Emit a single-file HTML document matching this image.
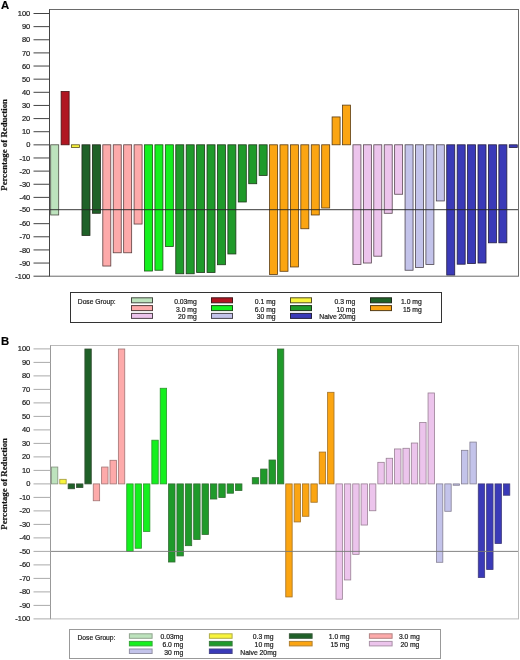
<!DOCTYPE html>
<html><head><meta charset="utf-8"><title>Figure</title>
<style>
html,body{margin:0;padding:0;background:#fff;}
body{width:520px;height:660px;overflow:hidden;}
svg{display:block;}
text{font-family:"Liberation Sans",Arial,Helvetica,sans-serif;fill:#1a1a1a;stroke:#1a1a1a;stroke-width:0.2px;}
.ax{font-size:7.5px;text-anchor:end;}
.lg{font-size:6.7px;}
.lge{font-size:6.8px;text-anchor:end;}
.pl{font-size:11.3px;font-weight:bold;fill:#000;}
.yl{font-family:"Liberation Serif","Times New Roman",serif;font-weight:bold;font-size:8.8px;text-anchor:middle;fill:#111;}
</style></head><body>
<svg width="520" height="660" viewBox="0 0 520 660">
<rect width="520" height="660" fill="#fff"/>

<text class="pl" x="1" y="9.4">A</text>
<rect x="50.70" y="144.80" width="8.00" height="70.18" fill="#bde3bd" stroke="#4a4d43" stroke-width="0.8"/>
<rect x="61.12" y="91.47" width="8.00" height="53.33" fill="#b01622" stroke="#461417" stroke-width="0.8"/>
<rect x="71.54" y="144.80" width="8.00" height="2.72" fill="#f8f43c" stroke="#5b521f" stroke-width="0.8"/>
<rect x="81.97" y="144.80" width="8.00" height="90.66" fill="#1f6128" stroke="#1e2919" stroke-width="0.8"/>
<rect x="92.39" y="144.80" width="8.00" height="68.47" fill="#1f6128" stroke="#1e2919" stroke-width="0.8"/>
<rect x="102.81" y="144.80" width="8.00" height="121.24" fill="#fdaaaa" stroke="#5c3e3e" stroke-width="0.8"/>
<rect x="113.23" y="144.80" width="8.00" height="107.98" fill="#fdaaaa" stroke="#5c3e3e" stroke-width="0.8"/>
<rect x="123.66" y="144.80" width="8.00" height="107.98" fill="#fdaaaa" stroke="#5c3e3e" stroke-width="0.8"/>
<rect x="134.08" y="144.80" width="8.00" height="79.24" fill="#fdaaaa" stroke="#5c3e3e" stroke-width="0.8"/>
<rect x="144.50" y="144.80" width="8.00" height="126.22" fill="#14f01e" stroke="#1b5116" stroke-width="0.8"/>
<rect x="154.92" y="144.80" width="8.00" height="125.44" fill="#14f01e" stroke="#1b5116" stroke-width="0.8"/>
<rect x="165.34" y="144.80" width="8.00" height="101.68" fill="#14f01e" stroke="#1b5116" stroke-width="0.8"/>
<rect x="175.77" y="144.80" width="8.00" height="128.98" fill="#1f9a2a" stroke="#1e391a" stroke-width="0.8"/>
<rect x="186.19" y="144.80" width="8.00" height="128.98" fill="#1f9a2a" stroke="#1e391a" stroke-width="0.8"/>
<rect x="196.61" y="144.80" width="8.00" height="127.67" fill="#1f9a2a" stroke="#1e391a" stroke-width="0.8"/>
<rect x="207.03" y="144.80" width="8.00" height="127.67" fill="#1f9a2a" stroke="#1e391a" stroke-width="0.8"/>
<rect x="217.46" y="144.80" width="8.00" height="119.93" fill="#1f9a2a" stroke="#1e391a" stroke-width="0.8"/>
<rect x="227.88" y="144.80" width="8.00" height="109.16" fill="#1f9a2a" stroke="#1e391a" stroke-width="0.8"/>
<rect x="238.30" y="144.80" width="8.00" height="57.19" fill="#1f9a2a" stroke="#1e391a" stroke-width="0.8"/>
<rect x="248.72" y="144.80" width="8.00" height="38.94" fill="#1f9a2a" stroke="#1e391a" stroke-width="0.8"/>
<rect x="259.14" y="144.80" width="8.00" height="30.67" fill="#1f9a2a" stroke="#1e391a" stroke-width="0.8"/>
<rect x="269.57" y="144.80" width="8.00" height="129.64" fill="#fba512" stroke="#5b3c13" stroke-width="0.8"/>
<rect x="279.99" y="144.80" width="8.00" height="126.49" fill="#fba512" stroke="#5b3c13" stroke-width="0.8"/>
<rect x="290.41" y="144.80" width="8.00" height="122.16" fill="#fba512" stroke="#5b3c13" stroke-width="0.8"/>
<rect x="300.83" y="144.80" width="8.00" height="83.96" fill="#fba512" stroke="#5b3c13" stroke-width="0.8"/>
<rect x="311.26" y="144.80" width="8.00" height="70.18" fill="#fba512" stroke="#5b3c13" stroke-width="0.8"/>
<rect x="321.68" y="144.80" width="8.00" height="63.22" fill="#fba512" stroke="#5b3c13" stroke-width="0.8"/>
<rect x="332.10" y="116.94" width="8.00" height="27.86" fill="#fba512" stroke="#5b3c13" stroke-width="0.8"/>
<rect x="342.52" y="105.12" width="8.00" height="39.68" fill="#fba512" stroke="#5b3c13" stroke-width="0.8"/>
<rect x="352.94" y="144.80" width="8.00" height="119.66" fill="#ecc4ec" stroke="#574550" stroke-width="0.8"/>
<rect x="363.37" y="144.80" width="8.00" height="118.22" fill="#ecc4ec" stroke="#574550" stroke-width="0.8"/>
<rect x="373.79" y="144.80" width="8.00" height="111.39" fill="#ecc4ec" stroke="#574550" stroke-width="0.8"/>
<rect x="384.21" y="144.80" width="8.00" height="68.47" fill="#ecc4ec" stroke="#574550" stroke-width="0.8"/>
<rect x="394.63" y="144.80" width="8.00" height="49.44" fill="#ecc4ec" stroke="#574550" stroke-width="0.8"/>
<rect x="405.06" y="144.80" width="8.00" height="125.44" fill="#c3c3ea" stroke="#4c454f" stroke-width="0.8"/>
<rect x="415.48" y="144.80" width="8.00" height="122.68" fill="#c3c3ea" stroke="#4c454f" stroke-width="0.8"/>
<rect x="425.90" y="144.80" width="8.00" height="119.66" fill="#c3c3ea" stroke="#4c454f" stroke-width="0.8"/>
<rect x="436.32" y="144.80" width="8.00" height="56.14" fill="#c3c3ea" stroke="#4c454f" stroke-width="0.8"/>
<rect x="446.74" y="144.80" width="8.00" height="130.29" fill="#3a3ab8" stroke="#251e41" stroke-width="0.8"/>
<rect x="457.17" y="144.80" width="8.00" height="119.40" fill="#3a3ab8" stroke="#251e41" stroke-width="0.8"/>
<rect x="467.59" y="144.80" width="8.00" height="118.74" fill="#3a3ab8" stroke="#251e41" stroke-width="0.8"/>
<rect x="478.01" y="144.80" width="8.00" height="118.22" fill="#3a3ab8" stroke="#251e41" stroke-width="0.8"/>
<rect x="488.43" y="144.80" width="8.00" height="98.01" fill="#3a3ab8" stroke="#251e41" stroke-width="0.8"/>
<rect x="498.86" y="144.80" width="8.00" height="98.01" fill="#3a3ab8" stroke="#251e41" stroke-width="0.8"/>
<rect x="509.28" y="144.80" width="8.00" height="2.72" fill="#3a3ab8" stroke="#251e41" stroke-width="0.8"/>
<line x1="49.5" y1="209.70" x2="518.5" y2="209.70" stroke="#222" stroke-width="0.9"/>
<rect x="49.5" y="9.5" width="469.0" height="266.70" fill="none" stroke="#6a6a6a" stroke-width="1"/>
<line x1="49.5" y1="9.5" x2="49.5" y2="276.2" stroke="#444" stroke-width="1"/>
<line x1="33.5" y1="13.50" x2="49.5" y2="13.50" stroke="#444" stroke-width="1"/>
<text class="ax" x="30.3" y="16.10">100</text>
<line x1="33.5" y1="26.63" x2="49.5" y2="26.63" stroke="#444" stroke-width="1"/>
<text class="ax" x="30.3" y="29.23">90</text>
<line x1="33.5" y1="39.77" x2="49.5" y2="39.77" stroke="#444" stroke-width="1"/>
<text class="ax" x="30.3" y="42.37">80</text>
<line x1="33.5" y1="52.90" x2="49.5" y2="52.90" stroke="#444" stroke-width="1"/>
<text class="ax" x="30.3" y="55.50">70</text>
<line x1="33.5" y1="66.04" x2="49.5" y2="66.04" stroke="#444" stroke-width="1"/>
<text class="ax" x="30.3" y="68.64">60</text>
<line x1="33.5" y1="79.17" x2="49.5" y2="79.17" stroke="#444" stroke-width="1"/>
<text class="ax" x="30.3" y="81.77">50</text>
<line x1="33.5" y1="92.31" x2="49.5" y2="92.31" stroke="#444" stroke-width="1"/>
<text class="ax" x="30.3" y="94.91">40</text>
<line x1="33.5" y1="105.44" x2="49.5" y2="105.44" stroke="#444" stroke-width="1"/>
<text class="ax" x="30.3" y="108.04">30</text>
<line x1="33.5" y1="118.58" x2="49.5" y2="118.58" stroke="#444" stroke-width="1"/>
<text class="ax" x="30.3" y="121.18">20</text>
<line x1="33.5" y1="131.71" x2="49.5" y2="131.71" stroke="#444" stroke-width="1"/>
<text class="ax" x="30.3" y="134.31">10</text>
<line x1="33.5" y1="144.85" x2="49.5" y2="144.85" stroke="#444" stroke-width="1"/>
<text class="ax" x="30.3" y="147.45">0</text>
<line x1="33.5" y1="157.98" x2="49.5" y2="157.98" stroke="#444" stroke-width="1"/>
<text class="ax" x="30.3" y="160.58">-10</text>
<line x1="33.5" y1="171.12" x2="49.5" y2="171.12" stroke="#444" stroke-width="1"/>
<text class="ax" x="30.3" y="173.72">-20</text>
<line x1="33.5" y1="184.25" x2="49.5" y2="184.25" stroke="#444" stroke-width="1"/>
<text class="ax" x="30.3" y="186.85">-30</text>
<line x1="33.5" y1="197.39" x2="49.5" y2="197.39" stroke="#444" stroke-width="1"/>
<text class="ax" x="30.3" y="199.99">-40</text>
<line x1="33.5" y1="209.70" x2="49.5" y2="209.70" stroke="#444" stroke-width="1"/>
<text class="ax" x="30.3" y="212.30">-50</text>
<line x1="33.5" y1="223.66" x2="49.5" y2="223.66" stroke="#444" stroke-width="1"/>
<text class="ax" x="30.3" y="226.26">-60</text>
<line x1="33.5" y1="236.79" x2="49.5" y2="236.79" stroke="#444" stroke-width="1"/>
<text class="ax" x="30.3" y="239.39">-70</text>
<line x1="33.5" y1="249.93" x2="49.5" y2="249.93" stroke="#444" stroke-width="1"/>
<text class="ax" x="30.3" y="252.53">-80</text>
<line x1="33.5" y1="263.06" x2="49.5" y2="263.06" stroke="#444" stroke-width="1"/>
<text class="ax" x="30.3" y="265.66">-90</text>
<line x1="33.5" y1="276.20" x2="49.5" y2="276.20" stroke="#444" stroke-width="1"/>
<text class="ax" x="30.3" y="278.80">-100</text>
<text class="yl" transform="translate(7.0,144.85) rotate(-90)">Percentage of Reduction</text>
<text class="pl" x="1" y="344.8">B</text>
<rect x="51.40" y="467.04" width="6.40" height="16.86" fill="#bde3bd" stroke="#818f7c" stroke-width="0.8"/>
<rect x="59.77" y="479.31" width="6.40" height="4.59" fill="#f8f43c" stroke="#9f983c" stroke-width="0.8"/>
<rect x="68.14" y="483.90" width="6.40" height="4.86" fill="#1f6128" stroke="#324e32" stroke-width="0.8"/>
<rect x="76.51" y="483.90" width="6.40" height="3.64" fill="#1f6128" stroke="#324e32" stroke-width="0.8"/>
<rect x="84.88" y="349.00" width="6.40" height="134.90" fill="#1f6128" stroke="#324e32" stroke-width="0.8"/>
<rect x="93.25" y="483.90" width="6.40" height="16.86" fill="#fdaaaa" stroke="#a17373" stroke-width="0.8"/>
<rect x="101.62" y="467.04" width="6.40" height="16.86" fill="#fdaaaa" stroke="#a17373" stroke-width="0.8"/>
<rect x="109.99" y="460.29" width="6.40" height="23.61" fill="#fdaaaa" stroke="#a17373" stroke-width="0.8"/>
<rect x="118.36" y="349.00" width="6.40" height="134.90" fill="#fdaaaa" stroke="#a17373" stroke-width="0.8"/>
<rect x="126.73" y="483.90" width="6.40" height="67.45" fill="#14f01e" stroke="#2d962d" stroke-width="0.8"/>
<rect x="135.10" y="483.90" width="6.40" height="64.35" fill="#14f01e" stroke="#2d962d" stroke-width="0.8"/>
<rect x="143.47" y="483.90" width="6.40" height="47.62" fill="#14f01e" stroke="#2d962d" stroke-width="0.8"/>
<rect x="151.84" y="440.19" width="6.40" height="43.71" fill="#14f01e" stroke="#2d962d" stroke-width="0.8"/>
<rect x="160.21" y="388.26" width="6.40" height="95.64" fill="#14f01e" stroke="#2d962d" stroke-width="0.8"/>
<rect x="168.58" y="483.90" width="6.40" height="78.11" fill="#1f9a2a" stroke="#326b33" stroke-width="0.8"/>
<rect x="176.95" y="483.90" width="6.40" height="72.04" fill="#1f9a2a" stroke="#326b33" stroke-width="0.8"/>
<rect x="185.32" y="483.90" width="6.40" height="61.78" fill="#1f9a2a" stroke="#326b33" stroke-width="0.8"/>
<rect x="193.69" y="483.90" width="6.40" height="55.58" fill="#1f9a2a" stroke="#326b33" stroke-width="0.8"/>
<rect x="202.06" y="483.90" width="6.40" height="50.59" fill="#1f9a2a" stroke="#326b33" stroke-width="0.8"/>
<rect x="210.43" y="483.90" width="6.40" height="15.11" fill="#1f9a2a" stroke="#326b33" stroke-width="0.8"/>
<rect x="218.80" y="483.90" width="6.40" height="13.62" fill="#1f9a2a" stroke="#326b33" stroke-width="0.8"/>
<rect x="227.17" y="483.90" width="6.40" height="9.31" fill="#1f9a2a" stroke="#326b33" stroke-width="0.8"/>
<rect x="235.54" y="483.90" width="6.40" height="6.61" fill="#1f9a2a" stroke="#326b33" stroke-width="0.8"/>
<rect x="252.28" y="477.69" width="6.40" height="6.21" fill="#1f9a2a" stroke="#326b33" stroke-width="0.8"/>
<rect x="260.65" y="469.06" width="6.40" height="14.84" fill="#1f9a2a" stroke="#326b33" stroke-width="0.8"/>
<rect x="269.02" y="460.02" width="6.40" height="23.88" fill="#1f9a2a" stroke="#326b33" stroke-width="0.8"/>
<rect x="277.39" y="349.00" width="6.40" height="134.90" fill="#1f9a2a" stroke="#326b33" stroke-width="0.8"/>
<rect x="285.76" y="483.90" width="6.40" height="113.05" fill="#fba512" stroke="#a07027" stroke-width="0.8"/>
<rect x="294.13" y="483.90" width="6.40" height="38.04" fill="#fba512" stroke="#a07027" stroke-width="0.8"/>
<rect x="302.50" y="483.90" width="6.40" height="32.38" fill="#fba512" stroke="#a07027" stroke-width="0.8"/>
<rect x="310.87" y="483.90" width="6.40" height="18.35" fill="#fba512" stroke="#a07027" stroke-width="0.8"/>
<rect x="319.24" y="452.06" width="6.40" height="31.84" fill="#fba512" stroke="#a07027" stroke-width="0.8"/>
<rect x="327.61" y="392.30" width="6.40" height="91.60" fill="#fba512" stroke="#a07027" stroke-width="0.8"/>
<rect x="335.98" y="483.90" width="6.40" height="115.34" fill="#ecc4ec" stroke="#998094" stroke-width="0.8"/>
<rect x="344.35" y="483.90" width="6.40" height="96.05" fill="#ecc4ec" stroke="#998094" stroke-width="0.8"/>
<rect x="352.72" y="483.90" width="6.40" height="70.42" fill="#ecc4ec" stroke="#998094" stroke-width="0.8"/>
<rect x="361.09" y="483.90" width="6.40" height="41.14" fill="#ecc4ec" stroke="#998094" stroke-width="0.8"/>
<rect x="369.46" y="483.90" width="6.40" height="26.85" fill="#ecc4ec" stroke="#998094" stroke-width="0.8"/>
<rect x="377.83" y="462.32" width="6.40" height="21.58" fill="#ecc4ec" stroke="#998094" stroke-width="0.8"/>
<rect x="386.20" y="458.27" width="6.40" height="25.63" fill="#ecc4ec" stroke="#998094" stroke-width="0.8"/>
<rect x="394.57" y="448.96" width="6.40" height="34.94" fill="#ecc4ec" stroke="#998094" stroke-width="0.8"/>
<rect x="402.94" y="448.29" width="6.40" height="35.61" fill="#ecc4ec" stroke="#998094" stroke-width="0.8"/>
<rect x="411.31" y="443.03" width="6.40" height="40.87" fill="#ecc4ec" stroke="#998094" stroke-width="0.8"/>
<rect x="419.68" y="422.52" width="6.40" height="61.38" fill="#ecc4ec" stroke="#998094" stroke-width="0.8"/>
<rect x="428.05" y="392.98" width="6.40" height="90.92" fill="#ecc4ec" stroke="#998094" stroke-width="0.8"/>
<rect x="436.42" y="483.90" width="6.40" height="78.38" fill="#c3c3ea" stroke="#847f93" stroke-width="0.8"/>
<rect x="444.79" y="483.90" width="6.40" height="27.38" fill="#c3c3ea" stroke="#847f93" stroke-width="0.8"/>
<rect x="453.16" y="483.90" width="6.40" height="1.35" fill="#c3c3ea" stroke="#847f93" stroke-width="0.8"/>
<rect x="461.53" y="450.31" width="6.40" height="33.59" fill="#c3c3ea" stroke="#847f93" stroke-width="0.8"/>
<rect x="469.90" y="442.08" width="6.40" height="41.82" fill="#c3c3ea" stroke="#847f93" stroke-width="0.8"/>
<rect x="478.27" y="483.90" width="6.40" height="93.62" fill="#3a3ab8" stroke="#403b7a" stroke-width="0.8"/>
<rect x="486.64" y="483.90" width="6.40" height="85.66" fill="#3a3ab8" stroke="#403b7a" stroke-width="0.8"/>
<rect x="495.01" y="483.90" width="6.40" height="59.63" fill="#3a3ab8" stroke="#403b7a" stroke-width="0.8"/>
<rect x="503.38" y="483.90" width="6.40" height="11.33" fill="#3a3ab8" stroke="#403b7a" stroke-width="0.8"/>
<line x1="50.5" y1="551.40" x2="518.5" y2="551.40" stroke="#777" stroke-width="0.9"/>
<rect x="50.5" y="345.5" width="468.0" height="273.40" fill="none" stroke="#bbb" stroke-width="1"/>
<line x1="50.5" y1="345.5" x2="50.5" y2="618.9" stroke="#999" stroke-width="1"/>
<line x1="33.5" y1="348.90" x2="50.5" y2="348.90" stroke="#aaa" stroke-width="1"/>
<text class="ax" x="30.3" y="351.20">100</text>
<line x1="33.5" y1="362.40" x2="50.5" y2="362.40" stroke="#aaa" stroke-width="1"/>
<text class="ax" x="30.3" y="364.70">90</text>
<line x1="33.5" y1="375.90" x2="50.5" y2="375.90" stroke="#aaa" stroke-width="1"/>
<text class="ax" x="30.3" y="378.20">80</text>
<line x1="33.5" y1="389.40" x2="50.5" y2="389.40" stroke="#aaa" stroke-width="1"/>
<text class="ax" x="30.3" y="391.70">70</text>
<line x1="33.5" y1="402.90" x2="50.5" y2="402.90" stroke="#aaa" stroke-width="1"/>
<text class="ax" x="30.3" y="405.20">60</text>
<line x1="33.5" y1="416.40" x2="50.5" y2="416.40" stroke="#aaa" stroke-width="1"/>
<text class="ax" x="30.3" y="418.70">50</text>
<line x1="33.5" y1="429.90" x2="50.5" y2="429.90" stroke="#aaa" stroke-width="1"/>
<text class="ax" x="30.3" y="432.20">40</text>
<line x1="33.5" y1="443.40" x2="50.5" y2="443.40" stroke="#aaa" stroke-width="1"/>
<text class="ax" x="30.3" y="445.70">30</text>
<line x1="33.5" y1="456.90" x2="50.5" y2="456.90" stroke="#aaa" stroke-width="1"/>
<text class="ax" x="30.3" y="459.20">20</text>
<line x1="33.5" y1="470.40" x2="50.5" y2="470.40" stroke="#aaa" stroke-width="1"/>
<text class="ax" x="30.3" y="472.70">10</text>
<line x1="33.5" y1="483.90" x2="50.5" y2="483.90" stroke="#aaa" stroke-width="1"/>
<text class="ax" x="30.3" y="486.20">0</text>
<line x1="33.5" y1="497.40" x2="50.5" y2="497.40" stroke="#aaa" stroke-width="1"/>
<text class="ax" x="30.3" y="499.70">-10</text>
<line x1="33.5" y1="510.90" x2="50.5" y2="510.90" stroke="#aaa" stroke-width="1"/>
<text class="ax" x="30.3" y="513.20">-20</text>
<line x1="33.5" y1="524.40" x2="50.5" y2="524.40" stroke="#aaa" stroke-width="1"/>
<text class="ax" x="30.3" y="526.70">-30</text>
<line x1="33.5" y1="537.90" x2="50.5" y2="537.90" stroke="#aaa" stroke-width="1"/>
<text class="ax" x="30.3" y="540.20">-40</text>
<line x1="33.5" y1="551.40" x2="50.5" y2="551.40" stroke="#aaa" stroke-width="1"/>
<text class="ax" x="30.3" y="553.70">-50</text>
<line x1="33.5" y1="564.90" x2="50.5" y2="564.90" stroke="#aaa" stroke-width="1"/>
<text class="ax" x="30.3" y="567.20">-60</text>
<line x1="33.5" y1="578.40" x2="50.5" y2="578.40" stroke="#aaa" stroke-width="1"/>
<text class="ax" x="30.3" y="580.70">-70</text>
<line x1="33.5" y1="591.90" x2="50.5" y2="591.90" stroke="#aaa" stroke-width="1"/>
<text class="ax" x="30.3" y="594.20">-80</text>
<line x1="33.5" y1="605.40" x2="50.5" y2="605.40" stroke="#aaa" stroke-width="1"/>
<text class="ax" x="30.3" y="607.70">-90</text>
<line x1="33.5" y1="618.90" x2="50.5" y2="618.90" stroke="#aaa" stroke-width="1"/>
<text class="ax" x="30.3" y="621.20">-100</text>
<text class="yl" transform="translate(7.0,483.90) rotate(-90)">Percentage of Reduction</text>
<rect x="70.5" y="292.5" width="371.0" height="30.0" fill="#fff" stroke="#333" stroke-width="1"/>
<text class="lg" x="77.8" y="303.9">Dose Group:</text>
<rect x="131.5" y="297.8" width="21" height="5.0" fill="#bde3bd" stroke="#454b42" stroke-width="1"/>
<text class="lge" x="196.8" y="303.70">0.03mg</text>
<rect x="211.5" y="297.8" width="21" height="5.0" fill="#b01622" stroke="#42181b" stroke-width="1"/>
<text class="lge" x="275.6" y="303.70">0.1 mg</text>
<rect x="290.5" y="297.8" width="21" height="5.0" fill="#f8f43c" stroke="#544f21" stroke-width="1"/>
<text class="lge" x="355.3" y="303.70">0.3 mg</text>
<rect x="370.5" y="297.8" width="21" height="5.0" fill="#1f6128" stroke="#1e2b1c" stroke-width="1"/>
<text class="lge" x="421.8" y="303.70">1.0 mg</text>
<rect x="131.5" y="305.6" width="21" height="5.0" fill="#fdaaaa" stroke="#553d3d" stroke-width="1"/>
<text class="lge" x="196.8" y="311.50">3.0 mg</text>
<rect x="211.5" y="305.6" width="21" height="5.0" fill="#14f01e" stroke="#1b4e1a" stroke-width="1"/>
<text class="lge" x="275.6" y="311.50">6.0 mg</text>
<rect x="290.5" y="305.6" width="21" height="5.0" fill="#1f9a2a" stroke="#1e391d" stroke-width="1"/>
<text class="lge" x="355.3" y="311.50">10 mg</text>
<rect x="370.5" y="305.6" width="21" height="5.0" fill="#fba512" stroke="#553c17" stroke-width="1"/>
<text class="lge" x="421.8" y="311.50">15 mg</text>
<rect x="131.5" y="313.4" width="21" height="5.0" fill="#ecc4ec" stroke="#51434d" stroke-width="1"/>
<text class="lge" x="196.8" y="319.30">20 mg</text>
<rect x="211.5" y="313.4" width="21" height="5.0" fill="#c3c3ea" stroke="#47434d" stroke-width="1"/>
<text class="lge" x="275.6" y="319.30">30 mg</text>
<rect x="290.5" y="313.4" width="21" height="5.0" fill="#3a3ab8" stroke="#252140" stroke-width="1"/>
<text class="lge" x="355.6" y="319.30">Naive 20mg</text>
<rect x="69.5" y="629.5" width="371.0" height="29.0" fill="#fff" stroke="#999" stroke-width="1"/>
<text class="lg" x="77.5" y="639.8">Dose Group:</text>
<rect x="129.4" y="633.8" width="22.7" height="4.5" fill="#bde3bd" stroke="#90a38e" stroke-width="1"/>
<text class="lge" x="183.2" y="639.45">0.03mg</text>
<rect x="209.4" y="633.8" width="22.7" height="4.5" fill="#f8f43c" stroke="#b0ac47" stroke-width="1"/>
<text class="lge" x="273.5" y="639.45">0.3 mg</text>
<rect x="289.4" y="633.8" width="22.7" height="4.5" fill="#1f6128" stroke="#395b3c" stroke-width="1"/>
<text class="lge" x="349.5" y="639.45">1.0 mg</text>
<rect x="369.4" y="633.8" width="22.7" height="4.5" fill="#fdaaaa" stroke="#b38383" stroke-width="1"/>
<text class="lge" x="419.7" y="639.45">3.0 mg</text>
<rect x="129.4" y="641.4" width="22.7" height="4.5" fill="#14f01e" stroke="#33aa36" stroke-width="1"/>
<text class="lge" x="183.2" y="647.05">6.0 mg</text>
<rect x="209.4" y="641.4" width="22.7" height="4.5" fill="#1f9a2a" stroke="#397a3d" stroke-width="1"/>
<text class="lge" x="273.5" y="647.05">10 mg</text>
<rect x="289.4" y="641.4" width="22.7" height="4.5" fill="#fba512" stroke="#b28130" stroke-width="1"/>
<text class="lge" x="349.3" y="647.05">15 mg</text>
<rect x="369.4" y="641.4" width="22.7" height="4.5" fill="#ecc4ec" stroke="#aa92a8" stroke-width="1"/>
<text class="lge" x="419.4" y="647.05">20 mg</text>
<rect x="129.4" y="649.0" width="22.7" height="4.5" fill="#c3c3ea" stroke="#9391a6" stroke-width="1"/>
<text class="lge" x="183.2" y="654.65">30 mg</text>
<rect x="209.4" y="649.0" width="22.7" height="4.5" fill="#3a3ab8" stroke="#48468b" stroke-width="1"/>
<text class="lge" x="276.6" y="654.65">Naive 20mg</text>
</svg></body></html>
